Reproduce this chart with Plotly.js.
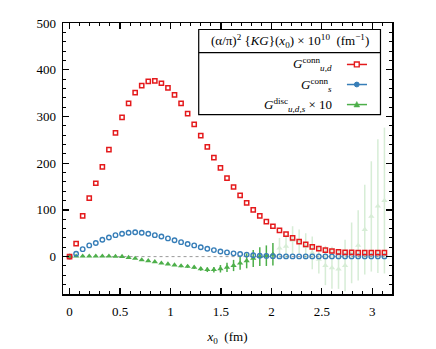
<!DOCTYPE html>
<html>
<head>
<meta charset="utf-8">
<script src="https://cdn.plot.ly/plotly-3.0.1.min.js"></script>
<style>
  body { margin: 0; background: #fff; }
  #chart { width: 436px; height: 349px; }
</style>
</head>
<body>
<div id="chart"></div>
<script>
// x0 in fm (lattice time slices)
var x0 = [0, 0.065, 0.13, 0.195, 0.26, 0.325, 0.39, 0.455, 0.52, 0.585,
          0.65, 0.715, 0.78, 0.845, 0.91, 0.975, 1.04, 1.105, 1.17, 1.235,
          1.3, 1.365, 1.43, 1.495, 1.56, 1.625, 1.69, 1.755, 1.82, 1.885,
          1.95, 2.015, 2.08, 2.145, 2.21, 2.275, 2.34, 2.405, 2.47, 2.535,
          2.6, 2.665, 2.73, 2.795, 2.86, 2.925, 2.99, 3.055, 3.12];

// G_{u,d}^conn
var gUD = [0, 28, 87, 125, 157, 192, 229, 265, 298, 328,
           351, 366, 375, 376, 371, 361, 346, 328, 306, 283,
           259, 235, 212, 190, 168, 149, 131, 115, 100, 87,
           75, 65, 56, 48, 40, 32, 26, 21, 17, 14,
           12, 10, 9, 9, 8.5, 8.5, 8.5, 8.5, 8.5];

// G_s^conn
var gS = [0, 6, 16, 24, 29, 36, 41, 46, 49, 51,
          52, 51, 49, 46, 43, 39, 35, 31, 27, 24,
          20, 17, 14, 11, 9, 7, 5.5, 4.3, 3, 2,
          1.5, 1, 0.5, 0.5, 0.5, 0.5, 0.5, 0.5, 0.5, 0.5,
          0.5, 0.5, 0.5, 0.5, 0.5, 0.5, 0.5, 0.5, 0.5];

// G_{u,d,s}^disc x 10, first 32 points (solid)
var gDisc = [0, 1, 1, 1, 1, 1, 1, 0.5, 0, -2,
             -4, -7, -9, -11, -14, -16, -18, -20, -21, -23,
             -26, -28, -28, -26, -23, -19, -14, -9, -4, 0,
             2, 5];
var gDiscErr = [0.5, 0.5, 0.5, 0.5, 0.5, 0.5, 0.5, 0.5, 0.5, 0.5,
                0.5, 0.5, 0.5, 0.5, 0.5, 1.5, 2, 2.5, 3, 3.5,
                4, 5, 6, 8, 10, 12, 14, 16, 18, 20,
                22, 24];
// remaining points (faded)
var gDiscTail = [18, 22, 35, 33, 22, 8, -6, -19, -24, -27,
                 -19, 8, 24, 58, 86, 108, 120];
var gDiscTailErr = [22, 25, 30, 25, 28, 35, 30, 42, 45, 42,
                    55, 65, 75, 96, 118, 143, 156];

var red = '#e41a1c', blue = '#377eb8', green = '#4daf4a';
var serif = '"Liberation Serif", "DejaVu Serif", serif';

var nSolid = gDisc.length;
var xSolid = x0.slice(0, nSolid);
var xTail = x0.slice(nSolid);

var traceUD = {
  type: 'scatter', mode: 'markers', x: x0, y: gUD,
  marker: {symbol: 'square-open', size: 4.2, color: red, line: {width: 1.5, color: red}},
  hoverinfo: 'skip'
};
var traceS = {
  type: 'scatter', mode: 'markers', x: x0, y: gS,
  marker: {symbol: 'circle-open', size: 4.5, color: blue, line: {width: 1.4, color: blue}},
  hoverinfo: 'skip'
};
var traceDisc = {
  type: 'scatter', mode: 'markers', x: xSolid, y: gDisc,
  error_y: {type: 'data', array: gDiscErr, visible: true, color: green, thickness: 1.5, width: 0},
  marker: {symbol: 'triangle-up', size: 5.5, color: green},
  hoverinfo: 'skip'
};
var traceDiscTail = {
  type: 'scatter', mode: 'markers', x: xTail, y: gDiscTail, opacity: 0.22,
  error_y: {type: 'data', array: gDiscTailErr, visible: true, color: green, thickness: 1.5, width: 0},
  marker: {symbol: 'triangle-up', size: 5.5, color: green},
  hoverinfo: 'skip'
};

// hand made legend box (text on the left, symbol on the right)
var bx0 = 0.4125, bx1 = 0.965, by0 = 0.662, by1 = 0.976, bsep = 0.891;
var rowY = [0.847, 0.773, 0.699];
var lx0 = 0.863, lx1 = 0.924, mx = 0.893;
var hx = 2.4 / 328.5, hy = 2.4 / 271;

var shapes = [
  {type: 'line', xref: 'x', yref: 'y', x0: 0, x1: 3.12, y0: 0, y1: 0,
   line: {color: '#999', width: 1, dash: 'dot'}, layer: 'below'},
  {type: 'rect', xref: 'paper', yref: 'paper', x0: bx0, x1: bx1, y0: by0, y1: by1,
   line: {color: '#000', width: 1.2}, fillcolor: '#fff', layer: 'above'},
  {type: 'line', xref: 'paper', yref: 'paper', x0: bx0, x1: bx1, y0: bsep, y1: bsep,
   line: {color: '#000', width: 1.2}}
];
var sampleCol = [red, blue, green];
for (var k = 0; k < 3; k++) {
  shapes.push({type: 'line', xref: 'paper', yref: 'paper', x0: lx0, x1: lx1, y0: rowY[k], y1: rowY[k],
               line: {color: sampleCol[k], width: 1.5}});
}
shapes.push({type: 'rect', xref: 'paper', yref: 'paper', x0: mx - hx, x1: mx + hx,
             y0: rowY[0] - hy, y1: rowY[0] + hy, line: {color: red, width: 1.4}, fillcolor: '#fff'});
shapes.push({type: 'circle', xref: 'paper', yref: 'paper', x0: mx - hx, x1: mx + hx,
             y0: rowY[1] - hy, y1: rowY[1] + hy, line: {color: blue, width: 1}, fillcolor: blue});
shapes.push({type: 'path', xref: 'paper', yref: 'paper',
             path: 'M ' + (mx - 1.2 * hx) + ' ' + (rowY[2] - hy) + ' L ' + (mx + 1.2 * hx) + ' ' + (rowY[2] - hy) +
                   ' L ' + mx + ' ' + (rowY[2] + 1.3 * hy) + ' Z',
             line: {color: green, width: 0.5}, fillcolor: green});

var annotations = [
  {xref: 'paper', yref: 'paper', x: 0.69, y: 0.932, xanchor: 'center', yanchor: 'middle', showarrow: false,
   text: '(α/π)<sup>2</sup> {<i>KG</i>}(<i>x</i><sub>0</sub>) × 10<sup>10</sup>  (fm<sup>−1</sup>)',
   font: {family: serif, size: 13, color: '#000'}},
  {xref: 'paper', yref: 'paper', x: 0.823, y: rowY[0], xanchor: 'right', yanchor: 'middle', showarrow: false,
   text: '<i>G</i><sup>conn</sup><sub><i>u,d</i></sub>', font: {family: serif, size: 13, color: '#000'}},
  {xref: 'paper', yref: 'paper', x: 0.823, y: rowY[1], xanchor: 'right', yanchor: 'middle', showarrow: false,
   text: '<i>G</i><sup>conn</sup><sub><i>s</i></sub>', font: {family: serif, size: 13, color: '#000'}},
  {xref: 'paper', yref: 'paper', x: 0.823, y: rowY[2], xanchor: 'right', yanchor: 'middle', showarrow: false,
   text: '<i>G</i><sup>disc</sup><sub><i>u,d,s</i></sub> × 10', font: {family: serif, size: 13, color: '#000'}}
];

var axisCommon = {
  showline: true, linecolor: '#000', linewidth: 1.5, mirror: 'ticks',
  ticks: 'inside', ticklen: 6, tickwidth: 1.2, tickcolor: '#000',
  showgrid: false, zeroline: false,
  tickfont: {family: serif, size: 13, color: '#000'}
};

var layout = {
  width: 436, height: 349,
  margin: {l: 63, r: 44, t: 23, b: 55},
  paper_bgcolor: '#fff', plot_bgcolor: '#fff',
  showlegend: false,
  font: {family: serif, size: 13, color: '#000'},
  xaxis: Object.assign({}, axisCommon, {
    range: [-0.065, 3.195], tick0: 0, dtick: 0.5, ticklabelstandoff: 5,
    minor: {dtick: 0.1, ticks: 'inside', ticklen: 3, tickwidth: 1, tickcolor: '#000'},
    title: {text: '<i>x</i><sub>0</sub>  (fm)', font: {family: serif, size: 13, color: '#000'}, standoff: 14}
  }),
  yaxis: Object.assign({}, axisCommon, {
    range: [-80, 500], tick0: 0, dtick: 100, ticklabelstandoff: 3,
    minor: {dtick: 20, ticks: 'inside', ticklen: 3, tickwidth: 1, tickcolor: '#000'}
  }),
  shapes: shapes,
  annotations: annotations
};

Plotly.newPlot('chart', [traceDiscTail, traceDisc, traceS, traceUD], layout, {staticPlot: true});
</script>
</body>
</html>
